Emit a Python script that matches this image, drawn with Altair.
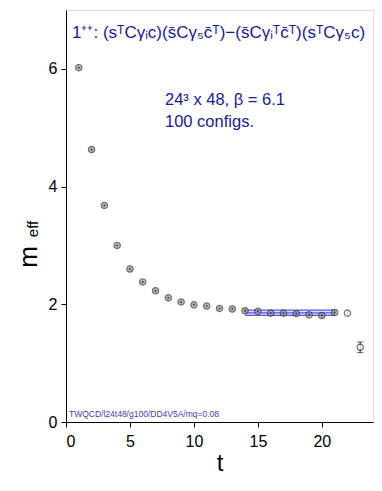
import altair as alt
import pandas as pd

t = list(range(1, 24))
meff = [6.02, 4.63, 3.68, 3.00, 2.60, 2.38, 2.23, 2.11, 2.04, 1.99, 1.97, 1.93, 1.92,
        1.89, 1.88, 1.85, 1.85, 1.84, 1.82, 1.81, 1.86, 1.85, 1.27]
err = [0.01, 0.01, 0.01, 0.01, 0.01, 0.01, 0.01, 0.01, 0.01, 0.01, 0.01, 0.01, 0.015,
       0.02, 0.02, 0.02, 0.025, 0.025, 0.025, 0.03, 0.03, 0.035, 0.09]

fit_t = [14, 21]
fit_c = 1.855
fit_e = 0.045

df = pd.DataFrame({"t": t, "m": meff, "lo": [m - e for m, e in zip(meff, err)],
                   "hi": [m + e for m, e in zip(meff, err)],
                   "open": [v >= 22 for v in t]})
fit = pd.DataFrame({"t": fit_t, "c": [fit_c] * 2, "lo": [fit_c - fit_e] * 2, "hi": [fit_c + fit_e] * 2})

xs = alt.Scale(domain=[0, 24], nice=False)
ys = alt.Scale(domain=[0, 7], nice=False)
X = alt.X("t:Q", scale=xs, axis=alt.Axis(values=[0, 5, 10, 15, 20], title="t", titleFontSize=24,
          titleFontWeight="normal", titleFont="Liberation Sans", titlePadding=2, format="d",
          labelFont="Liberation Sans", labelFontSize=16, labelColor="black", labelPadding=6,
          tickColor="black", domainColor="black", grid=False, tickSize=5))
Y_ax = alt.Axis(values=[0, 2, 4, 6], title=None, labelFont="Liberation Sans", labelFontSize=16,
                labelColor="black", tickColor="black", domainColor="black", grid=False, tickSize=5,
                labelPadding=4, format="d")

band = alt.Chart(fit).mark_area(color="#8888ff", opacity=0.25).encode(
    x=X, y=alt.Y("lo:Q", scale=ys, axis=Y_ax), y2="hi:Q")
lines = []
for col in ["lo", "c", "hi"]:
    lines.append(alt.Chart(fit).mark_line(color="#5555ee", strokeWidth=1.3).encode(
        x="t:Q", y=alt.Y(f"{col}:Q", scale=ys)))

ebar = alt.Chart(df).mark_rule(color="#222", strokeWidth=1).encode(
    x="t:Q", y=alt.Y("lo:Q", scale=ys), y2="hi:Q")
caps_df = df[df["t"] == 23]
caps = alt.Chart(caps_df).mark_tick(color="#222", thickness=1, size=6, orient="horizontal").encode(
    x="t:Q", y=alt.Y("lo:Q", scale=ys))
caps2 = alt.Chart(caps_df).mark_tick(color="#222", thickness=1, size=6, orient="horizontal").encode(
    x="t:Q", y=alt.Y("hi:Q", scale=ys))
pts = alt.Chart(df).mark_point(shape="circle", size=40, strokeWidth=1.2, filled=False).encode(
    x="t:Q", y=alt.Y("m:Q", scale=ys),
    stroke=alt.value("#333"),
    fill=alt.condition("datum.open", alt.value("white"), alt.value("#999")),
    fillOpacity=alt.value(1))
dots = alt.Chart(df[df["t"] <= 21]).mark_point(shape="circle", size=4, filled=True, color="#222").encode(
    x="t:Q", y=alt.Y("m:Q", scale=ys))

navy = "#1a1a90"
title_txt = alt.Chart(pd.DataFrame({"s": ["1\u207a\u207a:  (s\u1d40C\u03b3\u1d62c)(s\u0304C\u03b3\u2085c\u0304\u1d40)\u2212(s\u0304C\u03b3\u1d62\u1d40c\u0304\u1d40)(s\u1d40C\u03b3\u2085c)"]})).mark_text(
    align="left", baseline="middle", font="Liberation Sans", fontSize=17, color=navy).encode(
    x=alt.value(6), y=alt.value(23), text="s:N")
info = alt.Chart(pd.DataFrame({"s": ["24\u00b3 x 48, \u03b2 = 6.1", "100 configs."], "yy": [90, 112]})).mark_text(
    align="left", baseline="middle", font="Liberation Sans", fontSize=16.5, color=navy).encode(
    x=alt.value(99), y=alt.Y("yy:Q", scale=None), text="s:N")
foot = alt.Chart(pd.DataFrame({"s": ["TWQCD/l24t48/g100/DD4V5A/mq=0.08"]})).mark_text(
    align="left", baseline="middle", font="Liberation Sans", fontSize=8.5, color="#4040b0").encode(
    x=alt.value(3), y=alt.value(404), text="s:N")
ym = alt.Chart(pd.DataFrame({"s": ["m"]})).mark_text(
    angle=270, baseline="middle", align="center", font="Liberation Sans", fontSize=26, color="black").encode(
    x=alt.value(-37), y=alt.value(247), text="s:N")
yeff = alt.Chart(pd.DataFrame({"s": ["eff"]})).mark_text(
    angle=270, baseline="middle", align="center", font="Liberation Sans", fontSize=15, color="black").encode(
    x=alt.value(-33), y=alt.value(219), text="s:N")

chart = alt.layer(band, *lines, ebar, caps, caps2, pts, dots, title_txt, info, foot, ym, yeff).properties(
    width=307, height=412,
    autosize=alt.AutoSizeParams(type="none"),
    padding={"left": 58, "top": 2, "right": 1, "bottom": 61},
).configure_view(stroke="#555", strokeWidth=1).configure(background="white")

chart.save("out.html", embed_options={"renderer": "svg", "actions": False})
